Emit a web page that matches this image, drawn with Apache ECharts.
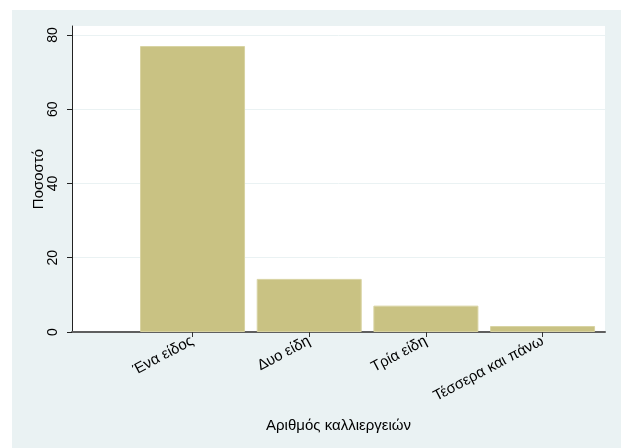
<!DOCTYPE html>
<html>
<head>
<meta charset="utf-8">
<script src="https://cdn.jsdelivr.net/npm/echarts@6/dist/echarts.min.js"></script>
<style>
html,body{margin:0;padding:0;background:#ffffff;}
#chart{position:absolute;left:12px;top:10px;width:609px;height:438px;}
</style>
</head>
<body>
<div id="chart"></div>
<script>
const categories = ['Ένα είδος', 'Δυο είδη', 'Τρία είδη', 'Τέσσερα και πάνω'];
const percentages = [77.0, 14.3, 7.1, 1.6];
const yTicks = [0, 20, 40, 60, 80];
const yTitle = 'Ποσοστό';
const xTitle = 'Αριθμός καλλιεργειών';

const font = 'Liberation Sans, Arial, sans-serif';
const chart = echarts.init(document.getElementById('chart'), null, {renderer: 'canvas'});
const positions = categories.map((c, i) => i);
chart.setOption({
  backgroundColor: '#EAF2F3',
  animation: false,
  grid: {left: 60, top: 16, width: 533, height: 306, show: true, backgroundColor: '#ffffff', borderWidth: 0},
  xAxis: {
    type: 'value',
    min: -1.033, max: 3.535,
    name: xTitle,
    nameLocation: 'middle',
    nameGap: 86,
    nameTextStyle: {fontFamily: font, fontSize: 15, color: '#000'},
    axisLine: {show: true, onZero: false, lineStyle: {color: '#5f5f5f', width: 2}},
    axisTick: {show: true, length: 5, customValues: positions, lineStyle: {color: '#333', width: 1}},
    axisLabel: {
      customValues: positions,
      rotate: 28,
      margin: 8,
      fontFamily: font, fontSize: 15, color: '#000',
      formatter: v => categories[Math.round(v)] || ''
    },
    splitLine: {show: false}
  },
  yAxis: {
    type: 'value',
    min: 0, max: 82.4,
    name: yTitle,
    nameLocation: 'middle',
    nameGap: 26,
    nameMoveOverlap: false,
    nameTextStyle: {fontFamily: font, fontSize: 15, color: '#000'},
    axisLine: {show: true, onZero: false, lineStyle: {color: '#222', width: 1}},
    axisTick: {show: true, length: 5, customValues: yTicks, lineStyle: {color: '#222'}},
    axisLabel: {customValues: yTicks, rotate: 90, margin: 12, fontFamily: font, fontSize: 14, color: '#000'},
    splitLine: {show: true, lineStyle: {color: '#EAF2F3', width: 1}},
    interval: 20
  },
  series: [{
    type: 'bar',
    data: percentages.map((v, i) => [i, v]),
    barWidth: 105,
    itemStyle: {color: '#C9C283', borderColor: '#D8D3A2', borderWidth: 1}
  }]
});
</script>
</body>
</html>
